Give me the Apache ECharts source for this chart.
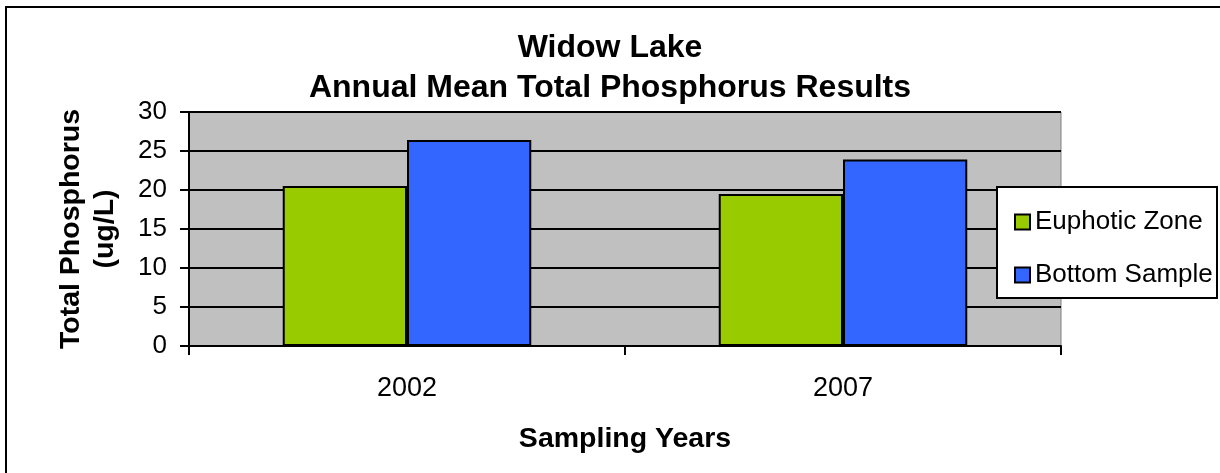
<!DOCTYPE html>
<html>
<head>
	<meta charset="utf-8">
	<title>Widow Lake phosphorus</title>
	<style>
		* { margin: 0; padding: 0; }
		body { background: #fff; }
		#chart { width: 1220px; height: 473px; }
	</style>
	<script src="https://cdn.jsdelivr.net/npm/echarts@6/dist/echarts.min.js"></script>
</head>
<body>
<div id="chart"></div>
<script>
	// values
	var years = ['2002', '2007'];
	var euphotic = [20.5, 19.5];
	var bottom = [26.4, 23.9];
	var seriesNames = ['Euphotic Zone', 'Bottom Sample'];

	var font = '"Liberation Sans", Arial, sans-serif';
	var chart = echarts.init(document.getElementById('chart'));

	chart.setOption({
		animation: false,
		textStyle: { fontFamily: font, color: '#000' },
		title: {
			text: 'Widow Lake\nAnnual Mean Total Phosphorus Results',
			left: 'center',
			top: 23,
			textStyle: { fontFamily: font, fontSize: 32, fontWeight: 'bold', lineHeight: 40, color: '#000' }
		},
		graphic: [
			// only top and left edges of the outer frame are visible
			{ type: 'line', shape: { x1: 6, y1: 7, x2: 1220, y2: 7 }, style: { stroke: '#000', lineWidth: 2 } },
			{ type: 'line', shape: { x1: 6, y1: 6, x2: 6, y2: 473 }, style: { stroke: '#000', lineWidth: 2 } },
			{ type: 'rect', z: 3, shape: { x: 997, y: 187, width: 220, height: 111 },
				style: { fill: '#fff', stroke: '#000', lineWidth: 2 } }
		],
		legend: {
			orient: 'vertical',
			left: 1009,
			top: 204,
			z: 5,
			icon: 'rect',
			itemWidth: 15,
			itemHeight: 15,
			itemGap: 27,
			textStyle: { fontFamily: font, fontSize: 26, color: '#000' },
			data: seriesNames
		},
		grid: {
			left: 189, right: 159, top: 112, bottom: 127,
			show: true,
			backgroundColor: '#C0C0C0',
			borderColor: '#808080',
			borderWidth: 1
		},
		xAxis: {
			type: 'category',
			data: years,
			name: 'Sampling Years',
			nameLocation: 'middle',
			nameGap: 79,
			nameTextStyle: { fontFamily: font, fontSize: 28.5, fontWeight: 'bold', color: '#000' },
			axisLine: { lineStyle: { color: '#000', width: 2 } },
			axisTick: { show: true, length: 9, lineStyle: { color: '#000', width: 2 } },
			axisLabel: { fontFamily: font, fontSize: 27, color: '#000', margin: 29 }
		},
		yAxis: {
			type: 'value',
			min: 0, max: 30, interval: 5,
			name: 'Total Phosphorus\n(ug/L)',
			nameLocation: 'middle',
			nameRotate: 90,
			nameGap: 67,
			nameTextStyle: { fontFamily: font, fontSize: 28.5, fontWeight: 'bold', lineHeight: 34, color: '#000' },
			axisLine: { show: true, lineStyle: { color: '#000', width: 2 } },
			axisTick: { show: true, length: 9, lineStyle: { color: '#000', width: 2 } },
			axisLabel: { fontFamily: font, fontSize: 26, color: '#000', margin: 22 },
			splitLine: { show: true, lineStyle: { color: '#000', width: 2 } }
		},
		series: [
			{
				name: seriesNames[0], type: 'bar', data: euphotic,
				barGap: '0%', barCategoryGap: '43%',
				itemStyle: { color: '#99CC00', borderColor: '#000', borderWidth: 2 }
			},
			{
				name: seriesNames[1], type: 'bar', data: bottom,
				barGap: '0%', barCategoryGap: '43%',
				itemStyle: { color: '#3366FF', borderColor: '#000', borderWidth: 2 }
			}
		]
	});
</script>
</body>
</html>
